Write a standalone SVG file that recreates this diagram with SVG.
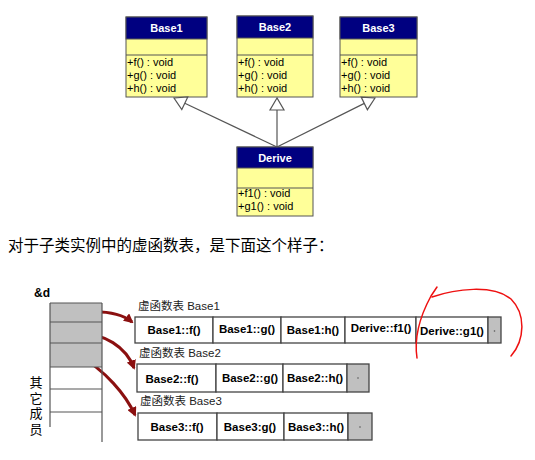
<svg xmlns="http://www.w3.org/2000/svg" width="535" height="460" viewBox="0 0 535 460">
<style>
.box{fill:#ffff99;stroke:#555;stroke-width:1}
.hdr{fill:#000080;stroke:#555;stroke-width:1}
.ht{font-family:"Liberation Sans",Arial,sans-serif;font-size:11px;font-weight:bold;fill:#fff;text-anchor:middle}
.mt{font-family:"Liberation Sans",Arial,sans-serif;font-size:11px;fill:#000}
.cjk{font-family:"Noto Sans CJK SC",sans-serif;fill:#000}
.lbl{font-family:"Liberation Sans","Noto Sans CJK SC",sans-serif;font-size:11.5px;fill:#222}
.cell{fill:#fff;stroke:#444;stroke-width:1.3}
.gcell{fill:#c0c0c0;stroke:#444;stroke-width:1.3}
.ct{font-family:"Liberation Sans",Arial,sans-serif;font-size:11.5px;font-weight:bold;fill:#000;text-anchor:middle}
.inh{stroke:#555;stroke-width:1.2;fill:none}
.tri{fill:#fff;stroke:#555;stroke-width:1.2}
.red{stroke:#8b1010;stroke-width:3;fill:none;marker-end:url(#ah)}
</style>
<defs>
<marker id="ah" viewBox="0 0 10 10" refX="8" refY="5" markerWidth="3.2" markerHeight="3.2" orient="auto" markerUnits="strokeWidth">
<path d="M0,0 L10,5 L0,10 Z" fill="#8b1010"/>
</marker>
</defs>
<rect width="535" height="460" fill="#fff"/>

<g id="Base1">
<rect class="box" x="126" y="17" width="81" height="80"/>
<rect class="hdr" x="126" y="17" width="81" height="22"/>
<line x1="126" y1="55" x2="207" y2="55" stroke="#555"/>
<text class="ht" x="166.5" y="32">Base1</text>
<text class="mt" x="127" y="66">+f() : void</text>
<text class="mt" x="127" y="79">+g() : void</text>
<text class="mt" x="127" y="92">+h() : void</text>
</g>
<g id="Base2">
<rect class="box" x="237" y="16" width="76" height="81"/>
<rect class="hdr" x="237" y="16" width="76" height="22"/>
<line x1="237" y1="55" x2="313" y2="55" stroke="#555"/>
<text class="ht" x="275" y="31">Base2</text>
<text class="mt" x="238" y="66">+f() : void</text>
<text class="mt" x="238" y="79">+g() : void</text>
<text class="mt" x="238" y="92">+h() : void</text>
</g>
<g id="Base3">
<rect class="box" x="340" y="17" width="77" height="80"/>
<rect class="hdr" x="340" y="17" width="77" height="22"/>
<line x1="340" y1="55" x2="417" y2="55" stroke="#555"/>
<text class="ht" x="378.5" y="32">Base3</text>
<text class="mt" x="341" y="66">+f() : void</text>
<text class="mt" x="341" y="79">+g() : void</text>
<text class="mt" x="341" y="92">+h() : void</text>
</g>
<g id="Derive">
<rect class="box" x="237" y="147" width="76" height="69"/>
<rect class="hdr" x="237" y="147" width="76" height="21"/>
<line x1="237" y1="188" x2="313" y2="188" stroke="#555"/>
<text class="ht" x="275" y="162">Derive</text>
<text class="mt" x="238" y="197">+f1() : void</text>
<text class="mt" x="238" y="210">+g1() : void</text>
</g>

<g id="connectors">
<line class="inh" x1="277" y1="147" x2="184.8" y2="103.2"/>
<polygon class="tri" points="174,98 187.8,96.9 181.8,109.5"/>
<line class="inh" x1="277" y1="147" x2="277" y2="110"/>
<polygon class="tri" points="277,98 270,110 284,110"/>
<line class="inh" x1="277" y1="147" x2="364.3" y2="103.4"/>
<polygon class="tri" points="375,98 367.4,109.7 361.2,97.1"/>
<path class="red" d="M75,313 C100,310 120,312 132,322"/>
<path class="red" d="M76,333 C105,333 126,347 134,368"/>
<path class="red" d="M78,355 C105,370 126,395 135,415"/>
</g>

<text class="cjk" x="8" y="251" font-size="15.5">对于子类实例中的虚函数表，是下面这个样子：</text>

<g id="object">
<text x="34" y="297" font-family="Liberation Sans,Arial,sans-serif" font-size="12" font-weight="bold">&amp;d</text>
<rect x="50" y="303" width="52" height="64" fill="#c0c0c0"/>
<g stroke="#555" stroke-width="1.2">
<line x1="50" y1="303" x2="102" y2="303"/>
<line x1="50" y1="322" x2="102" y2="322"/>
<line x1="50" y1="343" x2="102" y2="343"/>
<line x1="50" y1="367" x2="102" y2="367"/>
<line x1="50" y1="389" x2="102" y2="389"/>
<line x1="50" y1="412" x2="102" y2="412"/>
<line x1="50" y1="303" x2="50" y2="427"/>
<line x1="102" y1="303" x2="102" y2="442"/>
</g>
<text class="cjk" x="36" y="376" font-size="13" writing-mode="vertical-rl" letter-spacing="2.5">其它成员</text>
</g>

<g id="vtable1">
<text class="lbl" x="138" y="310">虚函数表 Base1</text>
<rect class="cell" x="135" y="317" width="78" height="26"/>
<rect class="cell" x="213" y="317" width="68" height="26"/>
<rect class="cell" x="281" y="317" width="64" height="26"/>
<rect class="cell" x="345" y="317" width="71" height="26"/>
<rect class="cell" x="416" y="317" width="72" height="26"/>
<rect class="gcell" x="488" y="317" width="13" height="26"/>
<text class="ct" x="174" y="334">Base1::f()</text>
<text class="ct" x="247" y="333">Base1::g()</text>
<text class="ct" x="313" y="334">Base1:h()</text>
<text class="ct" x="381" y="332">Derive::f1()</text>
<text class="ct" x="452" y="335">Derive::g1()</text>
<circle cx="494.5" cy="331" r="0.8" fill="#555"/>
</g>
<g id="vtable2">
<text class="lbl" x="139" y="357">虚函数表 Base2</text>
<rect class="cell" x="137" y="364" width="79" height="28"/>
<rect class="cell" x="216" y="364" width="67" height="28"/>
<rect class="cell" x="283" y="364" width="64" height="28"/>
<rect class="gcell" x="347" y="364" width="22" height="28"/>
<text class="ct" x="172" y="383">Base2::f()</text>
<text class="ct" x="250" y="382">Base2::g()</text>
<text class="ct" x="315" y="382">Base2::h()</text>
<circle cx="358" cy="378" r="0.8" fill="#555"/>
</g>
<g id="vtable3">
<text class="lbl" x="140" y="405">虚函数表 Base3</text>
<rect class="cell" x="138" y="413" width="79" height="27"/>
<rect class="cell" x="217" y="413" width="67" height="27"/>
<rect class="cell" x="284" y="413" width="64" height="27"/>
<rect class="gcell" x="348" y="413" width="24" height="27"/>
<text class="ct" x="177" y="431">Base3::f()</text>
<text class="ct" x="250" y="431">Base3:g()</text>
<text class="ct" x="316" y="431">Base3::h()</text>
<circle cx="360" cy="427" r="0.8" fill="#555"/>
</g>

<g id="highlight" fill="none" stroke="#ee1111" stroke-width="1.5" stroke-linecap="round">
<path d="M437,287 L431,296 C419,318 414,338 417,358"/>
<path d="M432,297 C455,289 493,284 511,299 C526,314 525,340 511,356"/>
</g>
</svg>
